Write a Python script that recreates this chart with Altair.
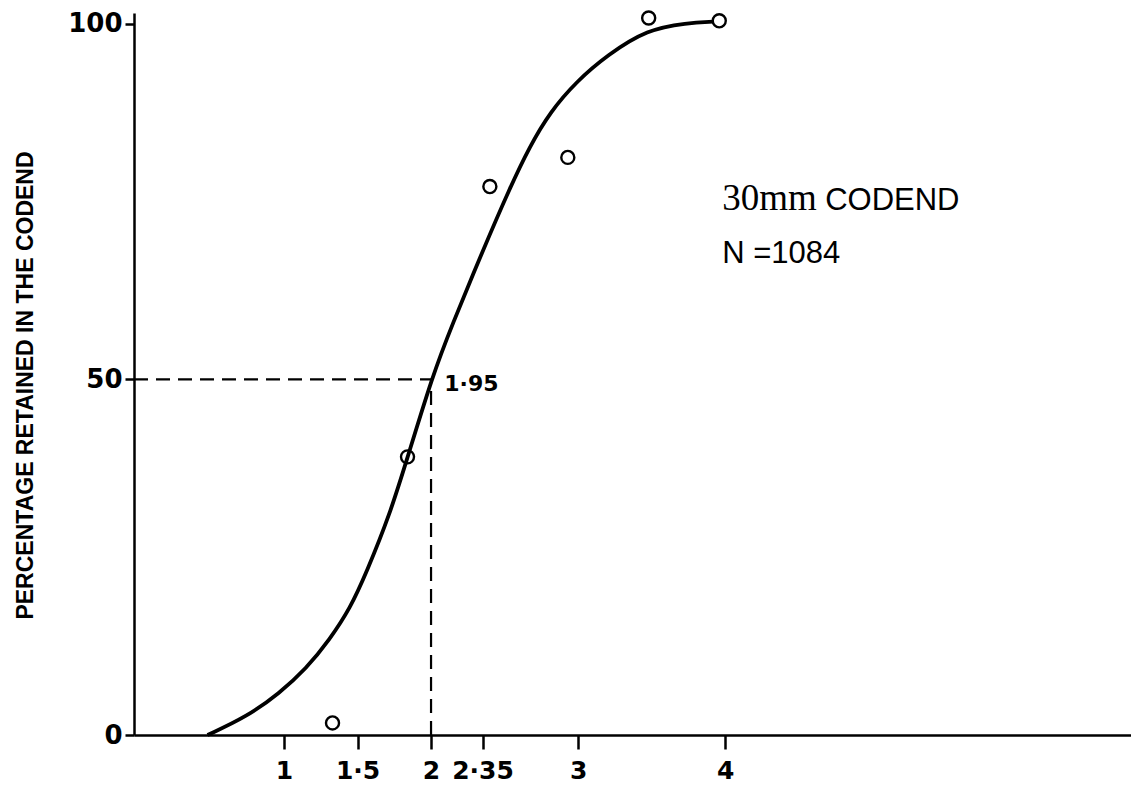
import altair as alt
import pandas as pd

# Selection curve
curve_x = [0.48, 0.75, 0.97, 1.15, 1.31, 1.45, 1.56, 1.72, 1.84, 2.01, 2.14, 2.35, 2.54, 2.67, 2.81, 2.99, 3.20, 3.47, 3.74, 3.92]
curve_y = [0.0, 2.6, 5.9, 9.3, 13.4, 17.8, 22.8, 31.0, 39.0, 50.5, 57.5, 68.0, 77.1, 82.7, 87.6, 91.9, 95.6, 99.2, 100.1, 100.3]

# Observed points
obs_x = [1.33, 1.84, 2.40, 2.93, 3.48, 3.96]
obs_y = [1.7, 39.1, 77.1, 81.2, 100.8, 100.4]

# Axis ticks
x_ticks = [1, 1.5, 2, 2.35, 3, 4]
x_tick_labels = ["1", "1·5", "2", "2·35", "3", "4"]
y_ticks = [0, 50, 100]

# 50% retention
l50_x = 2.0
l50_label = "1·95"

X_DOM = [-0.02, 6.76]
Y_DOM = [0, 101.5]

label_map = "{" + ",".join(f"'{v}':'{l}'" for v, l in zip(x_ticks, x_tick_labels)) + "}"

xs = alt.Scale(domain=X_DOM, nice=False, zero=False)
ys = alt.Scale(domain=Y_DOM, nice=False, zero=False)

curve_df = pd.DataFrame({"x": curve_x, "y": curve_y})
obs_df = pd.DataFrame({"x": obs_x, "y": obs_y})

x_axis = alt.Axis(values=x_ticks, labelExpr=f"{label_map}[toString(datum.value)]",
                  grid=False, domainColor="black", domainWidth=2.5, tickColor="black",
                  tickWidth=2.5, tickSize=14, labelFontSize=25, labelFont="DejaVu Sans",
                  labelFontWeight="bold", labelColor="black", labelPadding=9, title=None)
y_axis = alt.Axis(values=y_ticks, grid=False, domainColor="black", domainWidth=2.5,
                  tickColor="black", tickWidth=2.5, tickSize=9, labelFontSize=26,
                  labelFont="DejaVu Sans", labelFontWeight="bold", labelColor="black",
                  labelPadding=3, title="PERCENTAGE  RETAINED  IN  THE  CODEND",
                  titleFont="Liberation Sans", titleFontSize=23, titleFontWeight="bold",
                  titleColor="black", titleX=-102, titleY=372, titleAngle=270,
                  titleAlign="center", titleBaseline="alphabetic")

curve = alt.Chart(curve_df).mark_line(interpolate="basis", color="black", strokeWidth=3.8).encode(
    x=alt.X("x:Q", scale=xs, axis=x_axis),
    y=alt.Y("y:Q", scale=ys, axis=y_axis),
)

pts = alt.Chart(obs_df).mark_point(shape="circle", filled=False, size=170, color="black",
                                    strokeWidth=2.4, opacity=1).encode(
    x=alt.X("x:Q", scale=xs), y=alt.Y("y:Q", scale=ys))

hdash = alt.Chart(pd.DataFrame({"x": [X_DOM[0]], "x2": [l50_x], "y": [50]})).mark_rule(
    color="black", strokeWidth=2.2, strokeDash=[14, 8]).encode(
    x=alt.X("x:Q", scale=xs), x2="x2:Q", y=alt.Y("y:Q", scale=ys))

vdash = alt.Chart(pd.DataFrame({"x": [l50_x], "y": [0], "y2": [50]})).mark_rule(
    color="black", strokeWidth=2.2, strokeDash=[14, 8]).encode(
    x=alt.X("x:Q", scale=xs), y=alt.Y("y:Q", scale=ys), y2="y2:Q")

lbl = alt.Chart(pd.DataFrame({"x": [l50_x + 0.09], "y": [49.3], "t": [l50_label]})).mark_text(
    align="left", baseline="middle", fontSize=22, font="DejaVu Sans", fontWeight="bold",
    color="black").encode(x=alt.X("x:Q", scale=xs), y=alt.Y("y:Q", scale=ys), text="t:N")

t1 = alt.Chart(pd.DataFrame({"x": [3.98], "y": [73.8], "t": ["30mm"]})).mark_text(
    align="left", baseline="alphabetic", fontSize=37, font="Liberation Serif", color="black").encode(
    x=alt.X("x:Q", scale=xs), y=alt.Y("y:Q", scale=ys), text="t:N")

t2 = alt.Chart(pd.DataFrame({"x": [4.68], "y": [73.8], "t": ["CODEND"]})).mark_text(
    align="left", baseline="alphabetic", fontSize=31, font="Liberation Sans Narrow, Liberation Sans",
    color="black").encode(
    x=alt.X("x:Q", scale=xs), y=alt.Y("y:Q", scale=ys), text="t:N")

t3 = alt.Chart(pd.DataFrame({"x": [3.98], "y": [66.4], "t": ["N =1084"]})).mark_text(
    align="left", baseline="alphabetic", fontSize=31, font="Liberation Sans Narrow, Liberation Sans",
    color="black").encode(
    x=alt.X("x:Q", scale=xs), y=alt.Y("y:Q", scale=ys), text="t:N")

chart = alt.layer(curve, hdash, vdash, pts, lbl, t1, t2, t3).properties(
    width=997, height=722,
    autosize=alt.AutoSizeParams(type="none"),
    padding={"left": 134, "top": 13, "right": 0, "bottom": 59},
    background="white",
).configure_view(stroke=None)

chart.save("out.html", embed_options={"renderer": "svg", "actions": False})
